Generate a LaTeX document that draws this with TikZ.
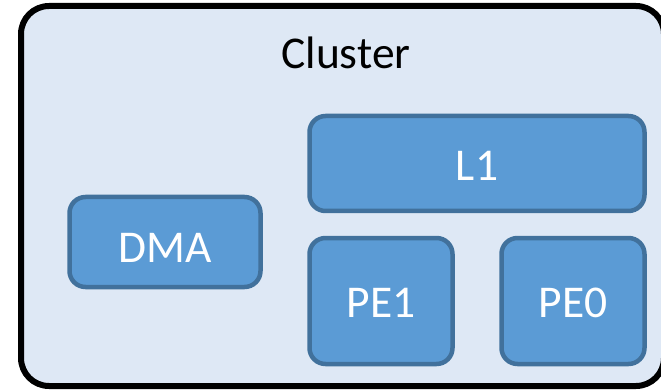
\documentclass[tikz,border=0pt]{standalone}
\usepackage{fontspec}
\setmainfont{Carlito}
\definecolor{clusterfill}{HTML}{DEE8F5}
\definecolor{blockfill}{HTML}{5B9BD5}
\definecolor{blockline}{HTML}{41719C}
\begin{document}
\begin{tikzpicture}[x=1pt,y=-1pt,
  cluster/.style={draw=black,line width=6pt,fill=clusterfill,rounded corners=28pt},
  block/.style={draw=blockline,line width=4.5pt,fill=blockfill,rounded corners=16pt},
  blocklabel/.style={text=white,anchor=base,inner sep=0pt,font=\fontsize{45.5}{50}\selectfont},
  title/.style={text=black,anchor=base,inner sep=0pt,font=\fontsize{45.5}{50}\selectfont}]
  \useasboundingbox (0,0) rectangle (661,390);
  % outer cluster frame
  \draw[cluster] (21,6) rectangle (664,386);
  \node[title] (cl) at (346,69) {Cluster};
  % blocks inside the cluster
  \draw[block] (309.5,116) rectangle (644.5,211);
  \draw[block] (69.5,197) rectangle (260.5,287);
  \draw[block] (309.5,238) rectangle (452.5,364);
  \draw[block] (501.5,238) rectangle (644.5,364);
  % block labels, set on their baselines
  \node[blocklabel] (l1) at (477,181) {L1};
  \node[blocklabel] (dma) at (165,262) {DMA};
  \node[blocklabel] (pe1) at (381,317) {PE1};
  \node[blocklabel] (pe0) at (573,317) {PE0};
\end{tikzpicture}
\end{document}
